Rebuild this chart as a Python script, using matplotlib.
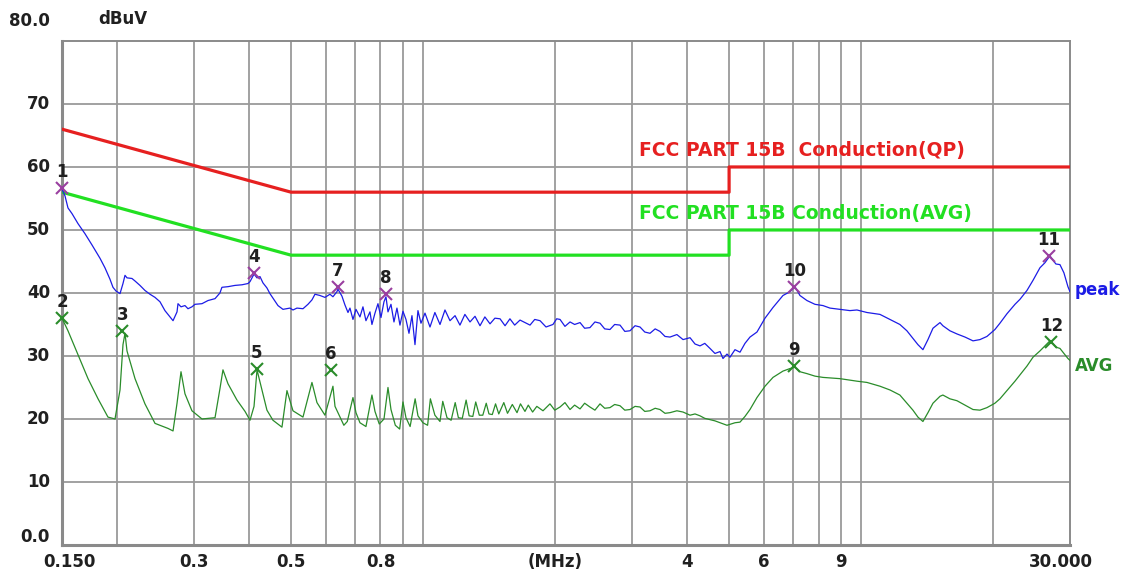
import matplotlib
matplotlib.use("Agg")
import matplotlib.pyplot as plt
import matplotlib.transforms as mtransforms

# peak trace (MHz, dBuV)
freq_peak = [0.150, 0.1524, 0.1548, 0.1581, 0.1632, 0.1693, 0.1757, 0.1832, 0.1880, 0.1930,
             0.1961, 0.1993, 0.2035, 0.2067, 0.2089, 0.2111, 0.2167, 0.2202, 0.2260, 0.2320,
             0.2382, 0.2446, 0.2511, 0.2577, 0.2619, 0.2689, 0.2746, 0.2760, 0.2804, 0.2863,
             0.2909, 0.2970, 0.3018, 0.3131, 0.3232, 0.3353, 0.3441, 0.3477, 0.3589, 0.3724,
             0.3864, 0.3988, 0.4030, 0.4116, 0.4181, 0.4247, 0.4314, 0.4405, 0.4475, 0.4546,
             0.4668, 0.4792, 0.4972, 0.5051, 0.5158, 0.5324, 0.5465, 0.5581, 0.5670, 0.5821,
             0.5976, 0.6135, 0.6232, 0.6364, 0.6398, 0.6534, 0.6638, 0.6745, 0.6815, 0.6924,
             0.7034, 0.7183, 0.7297, 0.7413, 0.7571, 0.7650, 0.7773, 0.7896, 0.8022, 0.8149,
             0.8235, 0.8323, 0.8455, 0.8589, 0.8725, 0.8864, 0.9005, 0.9148, 0.9294, 0.9441,
             0.9592, 0.9743, 0.9899, 1.011, 1.038, 1.065, 1.094, 1.123, 1.153, 1.184,
             1.215, 1.247, 1.281, 1.315, 1.350, 1.385, 1.423, 1.460, 1.500, 1.540,
             1.580, 1.620, 1.666, 1.710, 1.756, 1.800, 1.851, 1.910, 1.981, 2.020,
             2.056, 2.110, 2.167, 2.220, 2.284, 2.340, 2.406, 2.470, 2.537, 2.600,
             2.673, 2.740, 2.818, 2.890, 2.970, 3.050, 3.130, 3.210, 3.299, 3.390,
             3.477, 3.570, 3.664, 3.800, 3.925, 4.072, 4.180, 4.291, 4.400, 4.522,
             4.642, 4.767, 4.842, 4.945, 5.023, 5.157, 5.295, 5.435, 5.580, 5.789,
             6.039, 6.298, 6.637, 6.885, 7.068, 7.256, 7.528, 7.852, 8.189, 8.497,
             8.954, 9.436, 9.790, 10.32, 11.05, 11.65, 12.27, 12.73, 13.14, 13.49,
             13.85, 14.22, 14.60, 15.15, 15.38, 15.96, 16.56, 17.28, 18.02, 18.69,
             19.39, 20.22, 20.76, 21.54, 22.47, 23.07, 23.93, 24.70, 25.62, 26.30,
             27.00, 27.43, 27.86, 28.46, 29.06, 29.68, 30.00]
level_peak = [56.5, 55.4, 53.5, 52.6, 51.0, 49.4, 47.6, 45.5, 44.0, 42.2,
              40.9, 40.3, 39.9, 41.5, 42.8, 42.4, 42.3, 41.9, 41.2, 40.4,
              39.8, 39.3, 38.6, 37.2, 36.6, 35.6, 37.0, 38.3, 37.8, 38.0,
              37.5, 37.8, 38.2, 38.3, 38.8, 39.1, 40.0, 40.9, 41.0, 41.2,
              41.3, 41.5, 41.8, 43.0, 42.4, 42.6, 41.6, 40.8, 39.9, 39.2,
              38.0, 37.4, 37.6, 37.3, 37.6, 37.5, 38.2, 38.9, 39.8, 39.6,
              39.3, 39.8, 39.4, 40.2, 40.6, 39.5, 38.1, 36.9, 37.6, 35.8,
              37.4, 36.2, 37.8, 35.6, 37.0, 35.0, 36.8, 38.3, 36.1, 38.6,
              39.4, 37.0, 38.2, 35.4, 37.6, 34.9, 37.1, 35.8, 33.6, 36.4,
              31.8, 37.2, 35.2, 36.8, 34.6, 36.9, 35.0, 37.3, 35.6, 36.4,
              34.9, 36.6, 35.4, 36.3, 34.8, 36.2, 35.1, 36.0, 35.9, 34.8,
              35.9, 34.9, 35.7, 35.3, 34.9, 35.8, 35.6, 34.6, 35.0, 35.9,
              35.8, 34.7, 35.4, 35.0, 35.3, 34.4, 34.5, 35.4, 35.2, 34.3,
              34.2, 35.0, 34.9, 33.9, 34.0, 34.8, 34.6, 33.8, 33.6, 34.3,
              33.9, 33.1, 33.0, 33.4, 32.6, 32.9, 31.9, 31.6, 32.0, 31.2,
              30.4, 30.7, 29.6, 30.3, 29.8, 31.0, 30.6, 32.0, 33.0, 33.8,
              36.0, 37.7, 39.6, 40.2, 41.0, 39.6, 38.8, 38.2, 38.0, 37.6,
              37.4, 37.2, 37.3, 36.9, 36.6, 35.8, 35.0, 34.0, 32.8, 31.8,
              31.0, 32.6, 34.4, 35.3, 34.8, 34.0, 33.5, 33.0, 32.4, 32.6,
              33.1, 34.2, 35.2, 36.7, 38.2, 39.0, 40.4, 42.0, 44.0, 44.8,
              45.9, 45.2, 44.6, 44.5, 43.2, 41.0, 40.2]

# average trace (MHz, dBuV)
freq_avg = [0.150, 0.1524, 0.1548, 0.1632, 0.1720, 0.1813, 0.1910, 0.1982, 0.2035, 0.2067,
            0.2089, 0.2111, 0.2202, 0.2320, 0.2446, 0.2619, 0.2689, 0.2746, 0.2804, 0.2863,
            0.2970, 0.3131, 0.3353, 0.3441, 0.3496, 0.3589, 0.3763, 0.3926, 0.4030, 0.4116,
            0.4181, 0.4314, 0.4405, 0.4546, 0.4767, 0.4894, 0.5051, 0.5324, 0.5581, 0.5730,
            0.5976, 0.6232, 0.6300, 0.6450, 0.6600, 0.6720, 0.6924, 0.7034, 0.7183, 0.7413,
            0.7650, 0.7773, 0.7950, 0.8150, 0.8323, 0.8455, 0.8650, 0.8850, 0.9005, 0.9148,
            0.9350, 0.9600, 0.9743, 1.000, 1.025, 1.040, 1.065, 1.094, 1.110, 1.135,
            1.160, 1.185, 1.205, 1.230, 1.255, 1.275, 1.300, 1.320, 1.345, 1.370,
            1.395, 1.415, 1.440, 1.465, 1.490, 1.530, 1.560, 1.600, 1.640, 1.670,
            1.710, 1.740, 1.780, 1.820, 1.880, 1.950, 2.000, 2.056, 2.110, 2.167,
            2.220, 2.284, 2.340, 2.406, 2.470, 2.537, 2.600, 2.673, 2.740, 2.818,
            2.890, 2.970, 3.050, 3.130, 3.210, 3.299, 3.390, 3.477, 3.570, 3.664,
            3.800, 3.925, 4.072, 4.180, 4.291, 4.400, 4.522, 4.642, 4.767, 4.945,
            5.157, 5.295, 5.435, 5.580, 5.789, 6.039, 6.298, 6.637, 6.885, 7.068,
            7.256, 7.528, 7.852, 8.189, 8.954, 9.790, 10.32, 11.05, 11.65, 12.27,
            12.73, 13.14, 13.49, 13.85, 14.22, 14.60, 15.15, 15.38, 15.96, 16.56,
            17.28, 18.02, 18.69, 19.39, 20.22, 20.76, 21.54, 22.47, 23.07, 23.93,
            24.70, 25.62, 26.30, 27.00, 27.43, 27.86, 28.46, 29.06, 29.68, 30.00]
level_avg = [36.0, 35.0, 34.0, 30.2, 26.4, 23.2, 20.3, 20.0, 24.6, 31.8,
             33.6, 30.8, 26.4, 22.4, 19.3, 18.5, 18.1, 22.5, 27.5, 24.0,
             21.3, 20.0, 20.2, 24.8, 27.8, 25.6, 23.0, 21.2, 19.8, 22.0,
             27.8, 24.0, 21.4, 19.8, 18.7, 24.5, 21.3, 20.3, 25.8, 22.6,
             20.6, 25.2, 22.0, 20.5, 19.0, 19.6, 23.4, 21.0, 19.4, 18.8,
             23.8, 21.2, 19.2, 20.0, 25.0, 21.5, 19.0, 18.4, 22.7, 20.2,
             18.8, 23.2, 20.5, 19.4, 19.0, 23.2, 20.6, 19.6, 22.8, 20.2,
             19.8, 22.6, 20.2, 20.1, 23.0, 20.5, 20.4, 22.7, 20.6, 20.6,
             22.5, 20.8, 20.7, 22.4, 20.8, 22.6, 20.9, 22.3, 21.0, 22.4,
             21.2, 22.2, 21.1, 22.0, 21.3, 22.4, 21.4, 21.9, 22.6, 21.5,
             22.2, 21.6, 22.5, 21.9, 21.4, 22.4, 21.7, 21.8, 22.3, 22.1,
             21.4, 21.5, 22.0, 21.9, 21.2, 21.3, 21.7, 21.5, 20.9, 21.0,
             21.3, 21.1, 20.6, 20.8, 20.5, 20.1, 19.9, 19.7, 19.4, 19.0,
             19.4, 19.5, 20.4, 21.5, 23.4, 25.2, 26.6, 27.6, 28.0, 28.2,
             27.5, 27.2, 26.8, 26.6, 26.4, 26.0, 25.8, 25.2, 24.6, 23.8,
             22.5, 21.4, 20.3, 19.6, 21.0, 22.5, 23.6, 23.8, 23.2, 22.9,
             22.2, 21.5, 21.4, 21.8, 22.5, 23.2, 24.5, 26.0, 27.0, 28.4,
             29.8, 30.8, 31.6, 32.4, 32.0, 31.4, 31.2, 30.4, 29.6, 29.3]

# FCC Part 15B conducted limits
lim_freq = [0.15, 0.5, 5.0, 5.0, 30.0]
qp_limit = [66, 56, 56, 60, 60]
avg_limit = [56, 46, 46, 50, 50]

# marked points
pk_no = ['1', '4', '7', '8', '10', '11']
pk_f = [0.150, 0.411, 0.640, 0.823, 7.05, 26.8]
pk_db = [56.6, 43.2, 40.9, 39.9, 41.0, 45.8]
av_no = ['2', '3', '5', '6', '9', '12']
av_f = [0.150, 0.206, 0.418, 0.617, 7.03, 27.2]
av_db = [36.1, 33.9, 28.0, 27.7, 28.4, 32.2]

x_ticks = [0.15, 0.3, 0.5, 0.8, 2, 4, 6, 9, 30]
x_tick_labels = ['0.150', '0.3', '0.5', '0.8', '(MHz)', '4', '6', '9', '30.000']
y_ticks = [0, 10, 20, 30, 40, 50, 60, 70, 80]
y_tick_labels = ['0.0', '10', '20', '30', '40', '50', '60', '70', '80.0']
v_grid = [0.2, 0.3, 0.4, 0.5, 0.6, 0.7, 0.8, 0.9, 1, 2, 3, 4, 5, 6, 7, 8, 9, 10, 20]

RED = '#e62020'
LIME = '#22e022'
BLUE = '#1c1ce6'
DKGREEN = '#2a8c2a'
PURPLE = '#9a3fa0'

fig = plt.figure(figsize=(11.27, 5.77), dpi=100)
ax = fig.add_axes([0.055, 0.0555, 0.8944, 0.8735])
ax.set_xscale('log')
ax.set_xlim(0.15, 30)
ax.set_ylim(0, 80)

for f in v_grid:
    ax.axvline(f, color='#9a9a9a', lw=1.3, zorder=0)
for v in y_ticks[1:-1]:
    ax.axhline(v, color='#9a9a9a', lw=1.3, zorder=0)

for s in ax.spines.values():
    s.set_color('#8a8a8a')
    s.set_linewidth(1.4)
ax.spines['left'].set_linewidth(2.2)
ax.spines['bottom'].set_linewidth(2.2)

ax.set_xticks([])
ax.set_yticks([])
ax.xaxis.set_minor_locator(matplotlib.ticker.NullLocator())

ax.plot(lim_freq, qp_limit, color=RED, lw=2.3, zorder=3)
ax.plot(lim_freq, avg_limit, color=LIME, lw=2.3, zorder=3)
ax.plot(freq_peak, level_peak, color=BLUE, lw=0.9, zorder=4)
ax.plot(freq_avg, level_avg, color=DKGREEN, lw=0.9, zorder=4)

ax.plot(pk_f, pk_db, ls='none', marker='x', ms=9, mew=1.5, color=PURPLE, zorder=5, clip_on=False)
ax.plot(av_f, av_db, ls='none', marker='x', ms=9, mew=1.5, color=DKGREEN, zorder=5, clip_on=False)
for n, f, d in zip(pk_no + av_no, pk_f + av_f, pk_db + av_db):
    ax.annotate(n, (f, d), xytext=(0, 7), textcoords='offset pixels', ha='center', va='bottom',
                fontsize=12, fontweight='bold', color='#202020', zorder=6)

fnt = dict(fontsize=12, fontweight='bold', color='#202020')
# tick labels drawn as text (the instrument offsets the end ones)
xt = mtransforms.blended_transform_factory(ax.transData, ax.transAxes)
x_shift = [7, 0, 0, 0, 0, 0, 0, 0, -9]
for f, lab, dx in zip(x_ticks, x_tick_labels, x_shift):
    ax.annotate(lab, (f, 0), xycoords=xt, xytext=(dx, -8), textcoords='offset pixels',
                ha='center', va='top', annotation_clip=False, **fnt)
yt = mtransforms.blended_transform_factory(ax.transAxes, ax.transData)
for v, lab in zip(y_ticks, y_tick_labels):
    dy = 0
    if v == 80:
        dy = 20
    elif v == 0:
        dy = 8
    ax.annotate(lab, (0, v), xycoords=yt, xytext=(-12, dy), textcoords='offset pixels',
                ha='right', va='center', annotation_clip=False, **fnt)
ax.annotate('dBuV', (0, 80), xycoords=yt, xytext=(36, 22), textcoords='offset pixels',
            ha='left', va='center', annotation_clip=False, **fnt)

ax.text(3.12, 62.6, 'FCC PART 15B  Conduction(QP)', color=RED, fontsize=13.5, fontweight='bold',
        ha='left', va='center')
ax.text(3.12, 52.6, 'FCC PART 15B Conduction(AVG)', color=LIME, fontsize=13.5, fontweight='bold',
        ha='left', va='center')

ax.annotate('peak', (1, 40.4), xycoords=yt, xytext=(5, 0), textcoords='offset pixels',
            ha='left', va='center', color=BLUE, fontsize=12, fontweight='bold',
            annotation_clip=False)
ax.annotate('AVG', (1, 28.4), xycoords=yt, xytext=(5, 0), textcoords='offset pixels',
            ha='left', va='center', color=DKGREEN, fontsize=12, fontweight='bold',
            annotation_clip=False)

fig.savefig('out.png', dpi=100)
